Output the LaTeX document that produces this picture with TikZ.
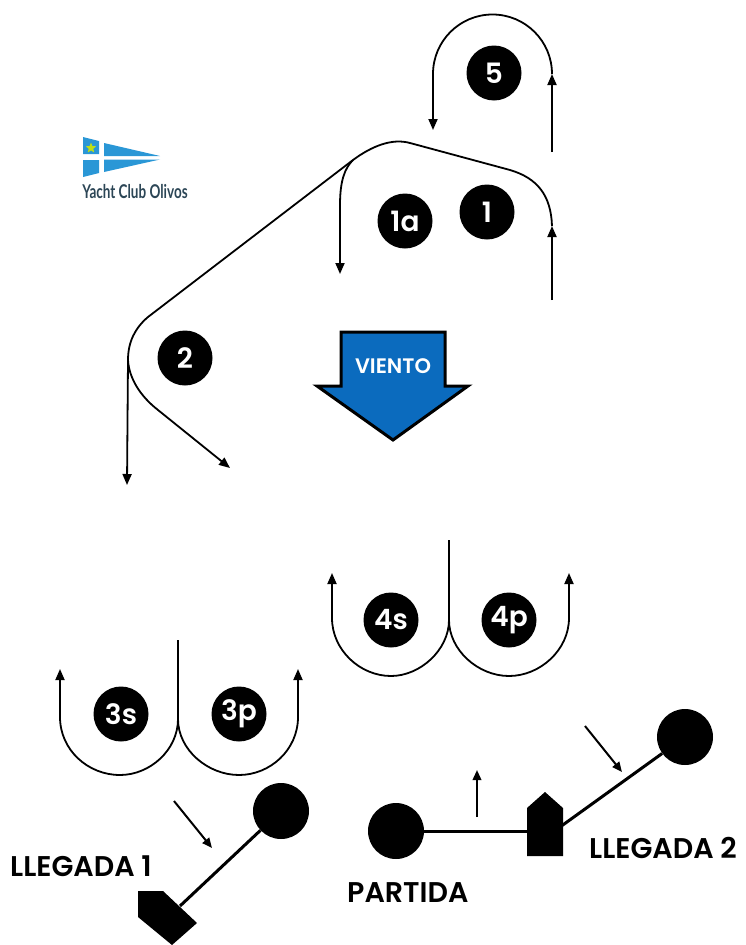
\documentclass[tikz,border=0pt]{standalone}
\usepackage{fontspec}
\setmainfont[BoldFont={Poppins SemiBold}]{Poppins}
\newfontfamily\logofont{Lato}
\usetikzlibrary{arrows.meta,shapes.geometric}
\definecolor{windblue}{HTML}{0B6BBE}
\definecolor{logoblue}{HTML}{2A97D6}
\definecolor{logotext}{HTML}{2C4656}
\tikzset{
  x=1pt,y=-1pt,
  course/.style={line width=1.8pt,black,line join=round},
  headed/.style={course,-{Triangle[length=11pt,width=9pt]}},
  small/.style={line width=2pt,black,-{Triangle[length=10pt,width=8.5pt]}},
  markball/.style={circle,fill=black,draw=none,minimum size=#1,inner sep=0pt},
  roundmark/.style={markball=55pt,text=white,font=\fontsize{28}{28}\selectfont\bfseries},
  buoy/.style={markball=56pt},
  gate/.style={line width=3pt,black},
  title/.style={font=\fontsize{28.5}{28.5}\selectfont\bfseries,anchor=base west,inner sep=0pt},
}
\begin{document}
\begin{tikzpicture}
\useasboundingbox (0,0) rectangle (745,945);
% logo
\fill[logoblue] (83,137) -- (99,141) -- (99,154) -- (83,154) -- cycle;
\fill[logoblue] (83,160) -- (99,160) -- (99,173) -- (83,177) -- cycle;
\fill[logoblue] (104,143) -- (160,156) -- (104,156) -- cycle;
\fill[logoblue] (104,159.5) -- (160,159.5) -- (104,172) -- cycle;
\node[star,star points=5,star point ratio=2.3,fill=yellow!75!green,draw=none,minimum size=11pt,inner sep=0pt] (logostar) at (91,148) {};
\node[font=\logofont\fontsize{19}{19}\selectfont\bfseries,text=logotext,xscale=0.71,inner sep=0pt] (logotitle) at (135,192) {Yacht Club Olivos};
% wind arrow
\draw[line width=3pt,black,fill=windblue,line join=miter]
  (341,332) -- (445,332) -- (445,386) -- (468,386) -- (393,440) -- (317,386) -- (341,386) -- cycle;
\node[font=\fontsize{21}{21}\selectfont\bfseries,text=white,inner sep=0pt] (viento) at (393,366) {VIENTO};
% marks
\node[roundmark] (m5) at (494,73) {5};
\node[roundmark] (m1a) at (405,221) {1a};
\node[roundmark] (m1) at (487,212) {1};
\node[roundmark] (m2) at (185,358) {2};
\node[roundmark] (m4s) at (391,620) {4s};
\node[roundmark] (m4p) at (509,620) {4p};
\node[roundmark] (m3s) at (121,714) {3s};
\node[roundmark] (m3p) at (239,714) {3p};
% leg 5
\coordinate (a5) at (552,152);
\coordinate (b5) at (552,74);
\coordinate (c5) at (433,130);
\draw[headed] (a5) -- (b5);
\draw[headed] (b5) arc[start angle=0,end angle=-180,radius=59.5] -- (c5);
% leg 1 and 1a, 2
\coordinate (a1) at (552,300);
\coordinate (b1) at (552,226);
\draw[headed] (a1) -- (b1);
\coordinate (split) at (353,160);
\coordinate (top) at (398,141);
\coordinate (turn2) at (128,360);
\coordinate (end1a) at (340,274);
\coordinate (end2a) at (127,485);
\coordinate (end2b) at (230,468);
\draw[course] (b1) .. controls (551,195) and (537,178) .. (510,170) -- (410,143)
  .. controls (392,138) and (372,146) .. (split) -- (148,317)
  .. controls (135,328) and (128,342) .. (turn2);
\draw[headed] (split) .. controls (345,168) and (340,180) .. (340,205) -- (end1a);
\draw[headed] (turn2) -- (end2a);
\draw[headed] (turn2) .. controls (129,378) and (140,396) .. (158,410) -- (end2b);
% leg 4
\coordinate (t4) at (449,540);
\coordinate (j4) at (449,620);
\coordinate (e4s) at (332,573);
\coordinate (e4p) at (569,573);
\draw[course] (t4) -- (j4);
\draw[headed] (j4) .. controls (449,650) and (420,676) .. (391,676) .. controls (360,676) and (332,650) .. (332,618) -- (e4s);
\draw[headed] (j4) .. controls (449,650) and (478,676) .. (509,676) .. controls (540,676) and (569,650) .. (569,618) -- (e4p);
% leg 3
\coordinate (t3) at (178,640);
\coordinate (j3) at (178,719);
\coordinate (e3s) at (60,669);
\coordinate (e3p) at (298,669);
\draw[course] (t3) -- (j3);
\draw[headed] (j3) .. controls (178,750) and (150,775) .. (120,775) .. controls (88,775) and (60,750) .. (60,717) -- (e3s);
\draw[headed] (j3) .. controls (178,750) and (208,775) .. (239,775) .. controls (270,775) and (298,750) .. (298,717) -- (e3p);
% finish 1
\node[buoy] (b1f) at (281,811) {};
\coordinate (p1) at (180,906);
\draw[gate] (b1f) -- (p1);
\fill[black] (138,891) -- (163,891) -- (197,923) -- (172,945) -- (138,917) -- cycle;
\coordinate (w1a) at (174,801);
\coordinate (w1b) at (212,848);
\draw[small] (w1a) -- (w1b);
\node[title] (l1) at (10,876) {LLEGADA 1};
% start + finish 2
\node[buoy] (bs) at (396,831) {};
\node[buoy] (b2f) at (685,737) {};
\coordinate (ps) at (530,831);
\coordinate (p2) at (560,827);
\draw[gate] (bs) -- (ps);
\draw[gate] (b2f) -- (p2);
\fill[black] (527,856) -- (563,856) -- (563,808) -- (545,792) -- (527,808) -- cycle;
\coordinate (w2a) at (477,817);
\coordinate (w2b) at (477,770);
\draw[small] (w2a) -- (w2b);
\coordinate (w3a) at (585,726);
\coordinate (w3b) at (622,772);
\draw[small] (w3a) -- (w3b);
\node[title] (l2) at (589,858) {LLEGADA 2};
\node[title] (l3) at (347,902) {PARTIDA};
\end{tikzpicture}
\end{document}
